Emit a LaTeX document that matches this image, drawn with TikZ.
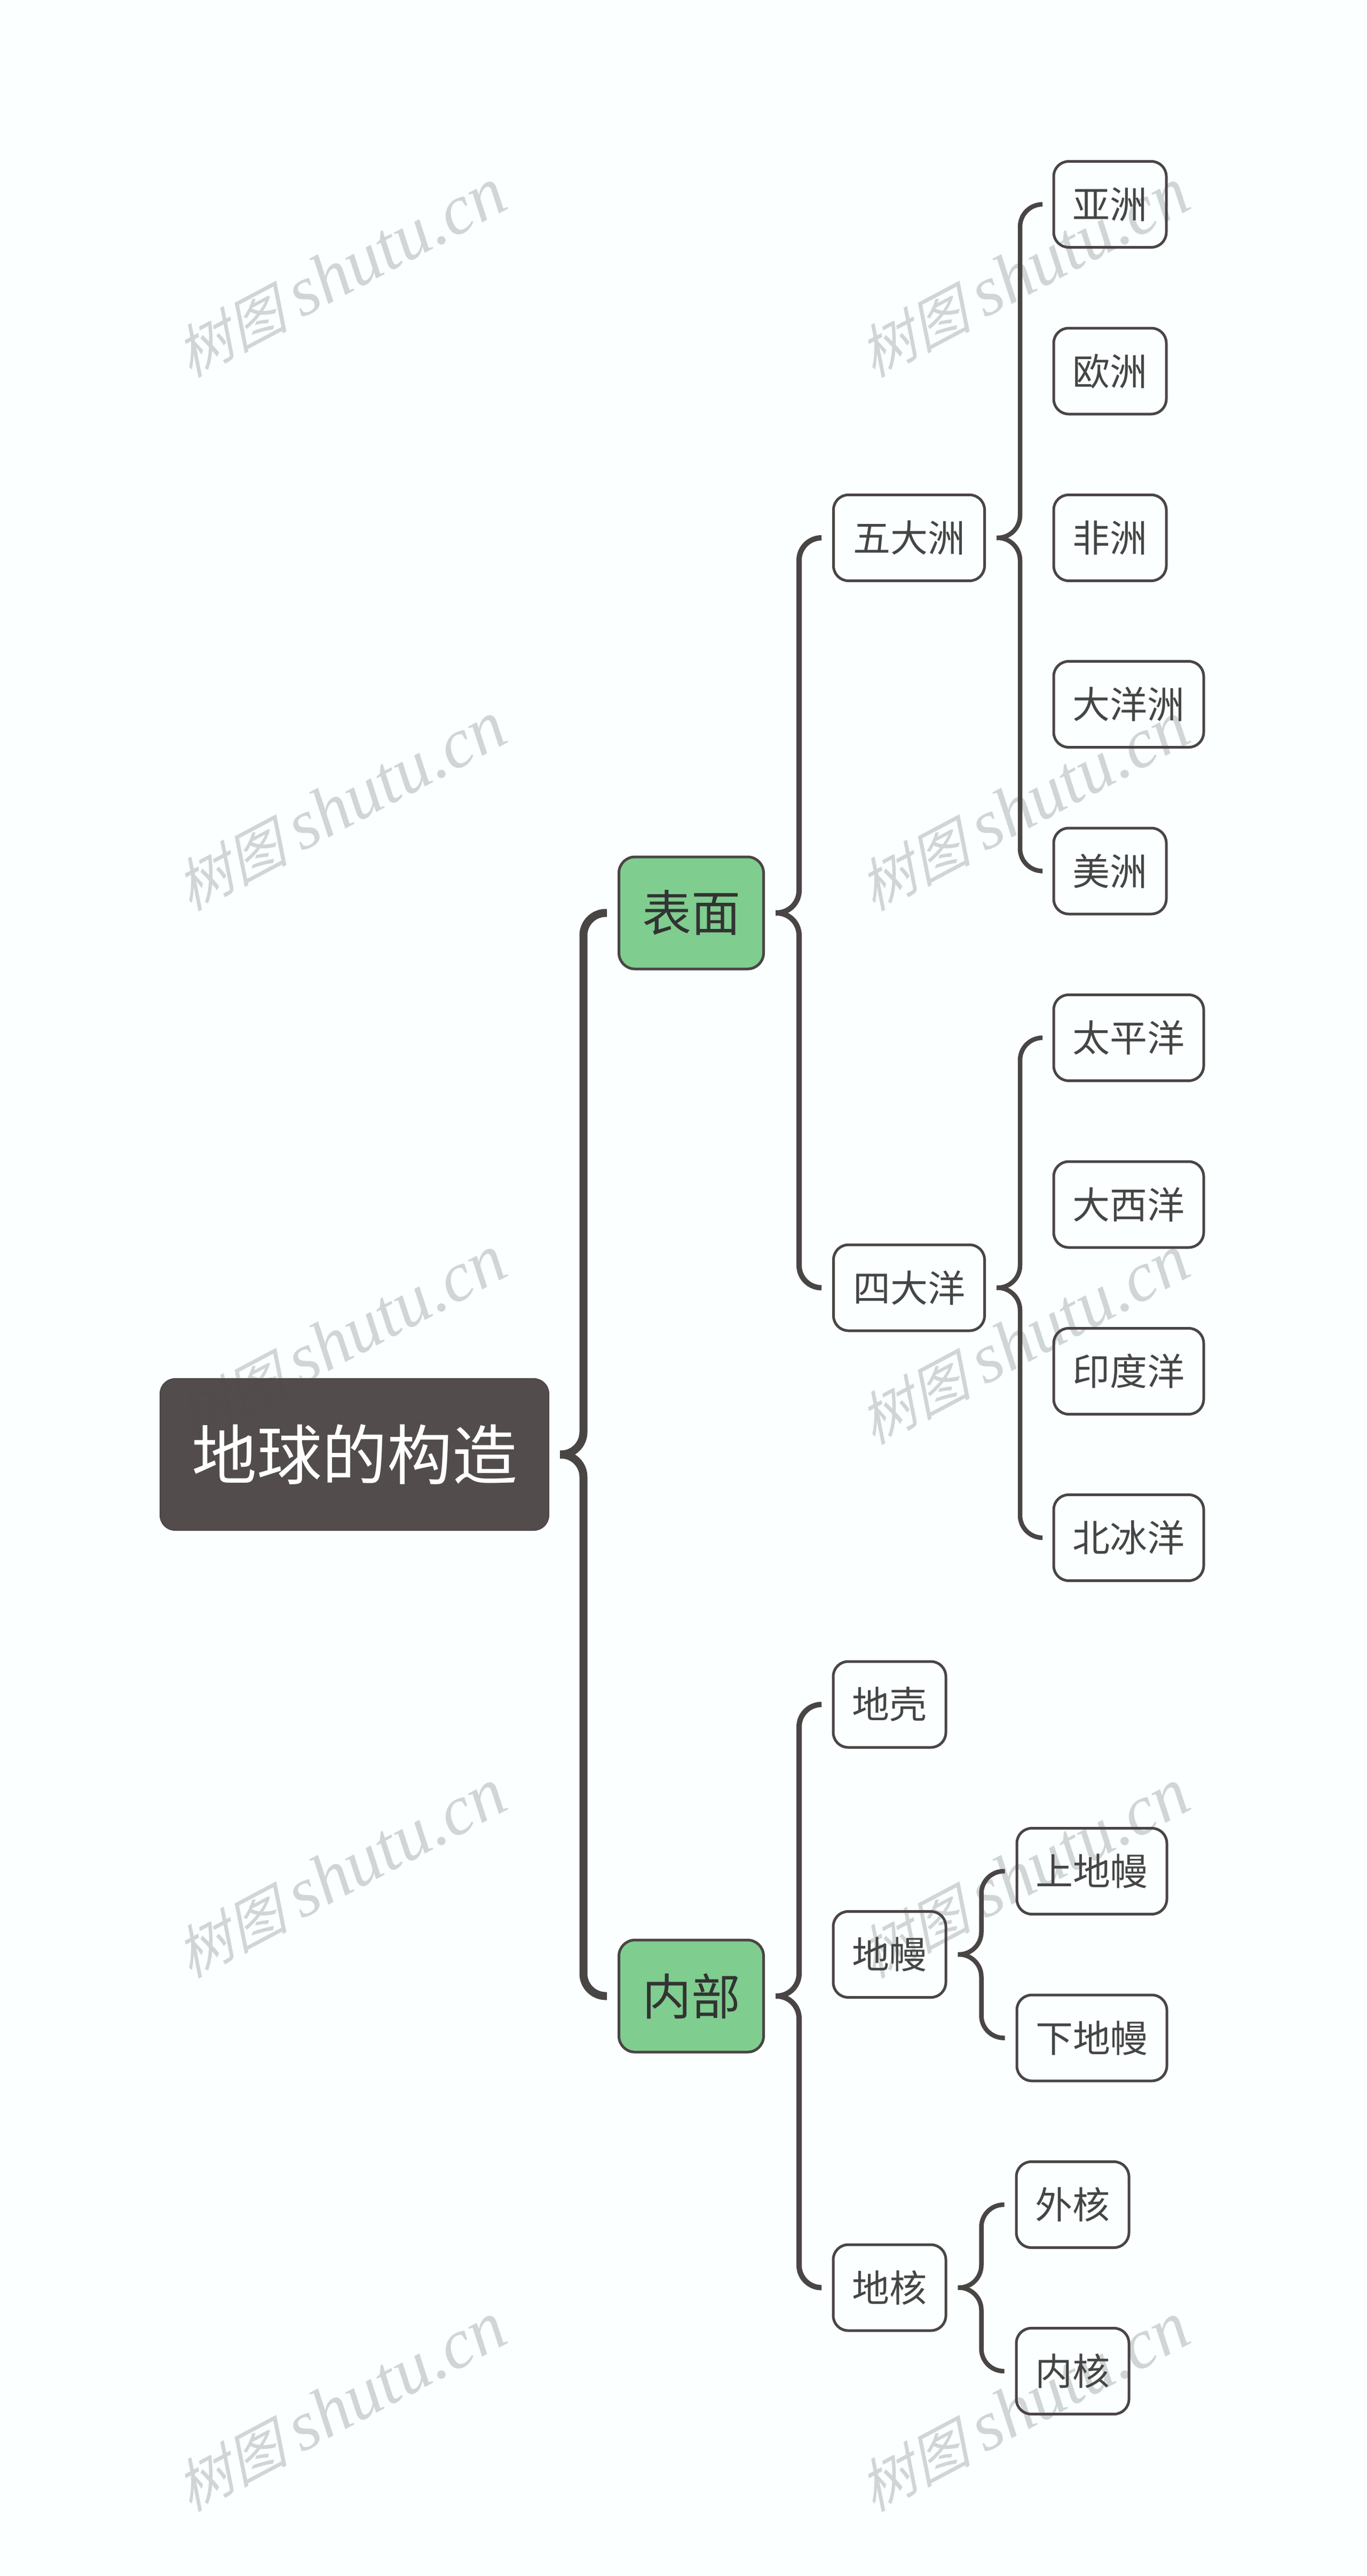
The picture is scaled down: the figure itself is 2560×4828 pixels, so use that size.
\documentclass[tikz,border=0pt]{standalone}
\usepackage{fontspec}
\newfontfamily\cjk{Noto Sans CJK SC}
\newfontfamily\wmcjk[FakeSlant=0.3]{Noto Sans CJK SC}
\newfontfamily\wmlat{Liberation Serif}
\definecolor{bgc}{HTML}{FBFFFF}
\definecolor{linec}{HTML}{4A4545}
\definecolor{rootc}{HTML}{4D4747}
\definecolor{greenc}{HTML}{7FCD8F}
\definecolor{wmc}{HTML}{D0D5D5}
\definecolor{txtc}{HTML}{454545}
\tikzset{
  wmark/.style={text=wmc,rotate=28,inner sep=0pt},
  rootnode/.style={rounded corners=28pt,fill=rootc,draw=rootc,line width=2pt,minimum width=728pt,minimum height=284pt,inner sep=0pt,text=white,font=\cjk\fontsize{122}{122}\selectfont},
  topic/.style={rounded corners=30pt,fill=greenc,draw=linec,line width=5pt,minimum width=271pt,minimum height=210pt,inner sep=0pt,text=black!80,font=\cjk\fontsize{92}{92}\selectfont},
  leaf/.style={rounded corners=28pt,draw=linec,line width=5pt,minimum height=161pt,inner sep=0pt,text=txtc,font=\cjk\fontsize{70}{70}\selectfont},
  two/.style={leaf,minimum width=211pt},
  three/.style={leaf,minimum width=281pt},
  conn/.style={draw=linec,rounded corners=42pt},
  connA/.style={conn,line width=15pt},
  connB/.style={conn,line width=10pt},
  connC/.style={conn,line width=8.5pt}
}
\newcommand{\bracelink}[3]{%
  \coordinate (tmpv) at ([xshift=64pt]#2.east);
  \draw[#1] ([xshift=20pt]#2.east) -- (tmpv) |- ([xshift=-20pt]#3.west);}
\begin{document}
\begin{tikzpicture}[x=1pt,y=-1pt]
\fill[bgc] (0,0) rectangle (2560,4828);
\useasboundingbox (0,0) rectangle (2560,4828);
% watermarks
\foreach \wy [count=\wi] in {512,1512,2512,3512,4512}{
  \foreach \wx [count=\wj] in {637,1917}{
    \node[wmark] (wm\wi\wj) at (\wx,\wy) {{\wmcjk\fontsize{106}{106}\selectfont 树图}\hspace{26pt}{\wmlat\itshape\fontsize{132}{132}\selectfont shutu.cn}};
  }
}
% nodes
\node[rootnode,fill opacity=.97,text opacity=1] (root) at (664,2726) {地球的构造};
\node[topic] (surface) at (1295,1711) {表面};
\node[topic] (inner) at (1295,3741) {内部};
\node[three,minimum width=283pt] (five) at (1703,1008) {五大洲};
\node[three,minimum width=283pt] (four) at (1703,2413.5) {四大洋};
\node[two] (crust) at (1666.5,3194.5) {地壳};
\node[two] (mantle) at (1666.5,3663) {地幔};
\node[two] (core) at (1666.5,4287.5) {地核};
\node[two] (asia) at (2079.5,383) {亚洲};
\node[two] (europe) at (2079.5,695.5) {欧洲};
\node[two] (africa) at (2079.5,1008) {非洲};
\node[three] (oceania) at (2114.5,1320) {大洋洲};
\node[two] (america) at (2079.5,1632.5) {美洲};
\node[three] (pacific) at (2114.5,1945) {太平洋};
\node[three] (atlantic) at (2114.5,2257.5) {大西洋};
\node[three] (indian) at (2114.5,2570) {印度洋};
\node[three] (arctic) at (2114.5,2882) {北冰洋};
\node[three] (upper) at (2045.5,3507) {上地幔};
\node[three] (lower) at (2045.5,3819.5) {下地幔};
\node[two] (outer) at (2009.5,4132) {外核};
\node[two] (incore) at (2009.5,4444) {内核};
% connectors
\bracelink{connA}{root}{surface}
\bracelink{connA}{root}{inner}
\bracelink{connB}{surface}{five}
\bracelink{connB}{surface}{four}
\bracelink{connB}{inner}{crust}
\bracelink{connB}{inner}{core}
\bracelink{connC}{five}{asia}
\bracelink{connC}{five}{america}
\bracelink{connC}{four}{pacific}
\bracelink{connC}{four}{arctic}
\bracelink{connC}{mantle}{upper}
\bracelink{connC}{mantle}{lower}
\bracelink{connC}{core}{outer}
\bracelink{connC}{core}{incore}
\end{tikzpicture}
\end{document}
